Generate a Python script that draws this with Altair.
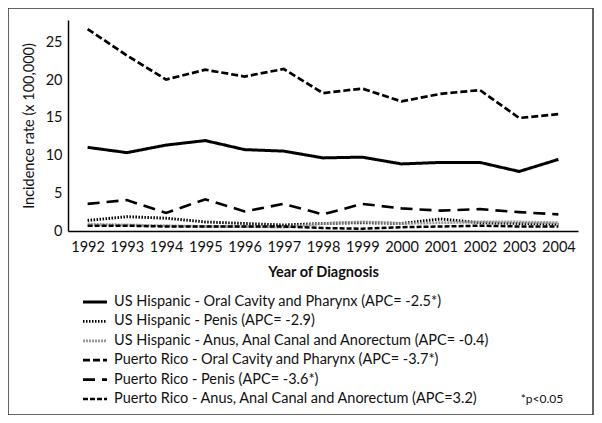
import altair as alt
import pandas as pd

years = [str(y) for y in range(1992, 2005)]

series_names = [
    "US Hispanic - Oral Cavity and Pharynx (APC= -2.5*)",
    "US Hispanic - Penis (APC= -2.9)",
    "US Hispanic - Anus, Anal Canal and Anorectum (APC= -0.4)",
    "Puerto Rico - Oral Cavity and Pharynx (APC= -3.7*)",
    "Puerto Rico - Penis (APC= -3.6*)",
    "Puerto Rico - Anus, Anal Canal and Anorectum (APC=3.2)",
]

us_oral = [11.1, 10.4, 11.4, 12.0, 10.8, 10.6, 9.7, 9.8, 8.9, 9.1, 9.1, 7.9, 9.5]
us_penis = [1.4, 1.9, 1.7, 1.2, 1.0, 0.8, 1.0, 1.1, 1.0, 1.6, 1.1, 1.0, 0.9]
us_anus = [0.9, 0.8, 0.7, 0.6, 0.6, 0.5, 1.0, 1.2, 1.0, 1.1, 1.2, 1.2, 1.1]
pr_oral = [26.8, 23.3, 20.1, 21.4, 20.5, 21.5, 18.3, 18.9, 17.2, 18.2, 18.7, 15.0, 15.5]
pr_penis = [3.6, 4.1, 2.4, 4.2, 2.6, 3.6, 2.2, 3.6, 3.0, 2.7, 2.9, 2.5, 2.2]
pr_anus = [0.7, 0.7, 0.6, 0.6, 0.6, 0.6, 0.4, 0.3, 0.5, 0.6, 0.7, 0.6, 0.6]

all_values = [us_oral, us_penis, us_anus, pr_oral, pr_penis, pr_anus]

rows = []
for name, vals in zip(series_names, all_values):
    for yr, v in zip(years, vals):
        rows.append({"year": yr, "rate": v, "series": name})
df = pd.DataFrame(rows)
legend_df = pd.DataFrame({"series": series_names})

colors = ["#000000", "#000000", "#9a9a9a", "#000000", "#000000", "#000000"]
dashes = [[1, 0], [1.5, 1.5], [2, 1], [7, 3], [12, 7], [5, 2]]
widths = [3, 2.5, 3, 4, 4, 3.5]

FONT = "Lato"

color_enc = alt.Color("series:N", scale=alt.Scale(domain=series_names, range=colors), legend=None)
dash_enc = alt.StrokeDash("series:N", scale=alt.Scale(domain=series_names, range=dashes), legend=None)
width_enc = alt.StrokeWidth("series:N", scale=alt.Scale(domain=series_names, range=widths), legend=None)

lines = alt.Chart(df).mark_line().encode(
    x=alt.X("year:O", title="Year of Diagnosis",
            scale=alt.Scale(paddingOuter=0.5),
            axis=alt.Axis(labelAngle=0, ticks=False, labelPadding=9, titlePadding=12,
                          domainColor="#000000", domainWidth=1.5,
                          labelFontSize=14.5, labelFont=FONT, labelColor="#111111",
                          titleFontSize=14.5, titleFont=FONT, titleFontWeight="bold",
                          titleColor="#111111")),
    y=alt.Y("rate:Q", title="Incidence rate (x 100,000)",
            scale=alt.Scale(domain=[0, 28], nice=False),
            axis=alt.Axis(values=[0, 5, 10, 15, 20, 25], ticks=False, grid=False,
                          labelPadding=6, titlePadding=9,
                          domainColor="#000000", domainWidth=1.5,
                          labelFontSize=14.5, labelFont=FONT, labelColor="#111111",
                          titleFontSize=14.5, titleFont=FONT, titleFontWeight="normal",
                          titleColor="#111111")),
    color=color_enc,
    strokeDash=dash_enc,
    strokeWidth=width_enc,
)

legend_y = alt.Y("series:N", sort=series_names, axis=None,
                 scale=alt.Scale(type="point", range=[282, 379], padding=0))

legend_sym = alt.Chart(legend_df).mark_rule().encode(
    x=alt.value(15), x2=alt.value(39), y=legend_y,
    color=color_enc, strokeDash=dash_enc, strokeWidth=width_enc,
)

legend_txt = alt.Chart(legend_df).mark_text(
    font=FONT, fontSize=14.5, color="#111111", align="left", baseline="middle"
).encode(
    x=alt.value(46), y=legend_y, text="series:N"
)

border = alt.Chart(pd.DataFrame({"a": [0]})).mark_rect(
    filled=False, stroke="#333333", strokeWidth=1.5
).encode(
    x=alt.value(-60), x2=alt.value(525), y=alt.value(-12), y2=alt.value(395)
)

note = alt.Chart(pd.DataFrame({"t": ["*p<0.05"]})).mark_text(
    font=FONT, fontSize=12, color="#111111", align="center", baseline="middle"
).encode(
    text="t:N", x=alt.value(474), y=alt.value(379)
)

legend_layer = alt.layer(legend_sym, legend_txt)

chart = alt.layer(lines, legend_layer, border, note).resolve_scale(y="independent").properties(
    width=510,
    height=211,
    autosize=alt.AutoSizeParams(type="none"),
    padding={"left": 60, "top": 12, "right": 16, "bottom": 184},
).configure_view(stroke=None)

chart.save("out.html", embed_options={"renderer": "svg", "actions": False})
